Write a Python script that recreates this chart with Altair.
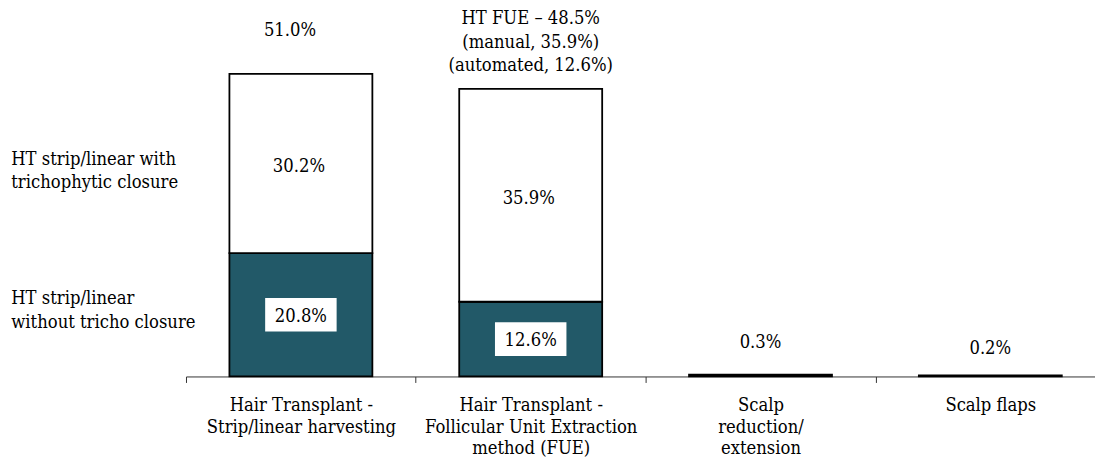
import json
import altair as alt
import pandas as pd

categories = [
    "Hair Transplant -\nStrip/linear harvesting",
    "Hair Transplant -\nFollicular Unit Extraction\nmethod (FUE)",
    "Scalp\nreduction/\nextension",
    "Scalp flaps",
]
bottom_values = [20.8, 12.6, 0.3, 0.2]
top_values = [30.2, 35.9, 0.0, 0.0]
total_labels = [
    "51.0%",
    "HT FUE \u2013 48.5%\n (manual,  35.9%)\n(automated, 12.6%)",
    "0.3%",
    "0.2%",
]
annotations = [
    "HT strip/linear with\ntrichophytic closure",
    "HT strip/linear\nwithout tricho closure",
]

DARK = "#225968"
FONT = "DejaVu Serif Condensed, DejaVu Serif"
FS = 18.4

rows = []
for i, c in enumerate(categories):
    b = bottom_values[i]
    t = top_values[i]
    rows.append(dict(cat=c, xc=i + 0.5, seg="bottom", y0=0.0, y1=b, mid=b / 2,
                     label=f"{b:.1f}%", color=DARK))
    if t > 0:
        rows.append(dict(cat=c, xc=i + 0.5, seg="top", y0=b, y1=b + t, mid=b + t / 2,
                         label=f"{t:.1f}%", color="white"))
seg_df = pd.DataFrame(rows)

tot_df = pd.DataFrame({
    "cat": categories,
    "idx": list(range(4)),
    "xc": [i + 0.5 for i in range(4)],
    "total": [b + t for b, t in zip(bottom_values, top_values)],
    "label": total_labels,
})

ann_df = pd.DataFrame({
    "idx": [0, 1],
    "text": annotations,
    "ypos": [bottom_values[0] + top_values[0] / 2, bottom_values[0] / 2],
})

W = 915.7
STEP = 231.5
xscale = alt.Scale(domain=[0, W / STEP], nice=False, zero=False, padding=0)
yscale = alt.Scale(domain=[0, 60])

cats_js = json.dumps(categories)
tick_vals = [0, 0.5, 1, 1.5, 2, 2.5, 3, 3.5]
x_axis = alt.Axis(
    values=tick_vals,
    labelExpr=f"datum.value % 1 === 0 ? '' : split({cats_js}[floor(datum.value)], '\\n')",
    labelAngle=0, labelFont=FONT, labelFontSize=FS, labelColor="black",
    labelLineHeight=22, labelPadding=13, labelLimit=0,
    labelOverlap=False, labelBound=False, labelFlush=False,
    tickSize=6, tickColor="#333333", tickWidth=1,
    tickOpacity=alt.condition("datum.value % 1 === 0", alt.value(1), alt.value(0)),
    domainColor="#333333", domainWidth=1, grid=False, title=None,
)

base = alt.Chart(seg_df)

bars = base.mark_bar(width=144, stroke="black", strokeWidth=1.8).encode(
    x=alt.X("xc:Q", scale=xscale, axis=x_axis),
    y=alt.Y("y0:Q", scale=yscale, axis=None),
    y2="y1:Q",
    fill=alt.Fill("color:N", scale=None),
)

top_text = base.transform_filter("datum.seg == 'top'").mark_text(
    font=FONT, fontSize=FS, color="black", baseline="middle", dy=2.5, dx=-2
).encode(x=alt.X("xc:Q", scale=xscale), y=alt.Y("mid:Q", scale=yscale), text="label:N")

box_path = "M-1,-0.47L1,-0.47L1,0.47L-1,0.47Z"
boxes = base.transform_filter("datum.seg == 'bottom' && datum.y1 > 5").mark_point(
    shape=box_path, size=72 * 72, filled=True, color="white", opacity=1, strokeWidth=0
).encode(x=alt.X("xc:Q", scale=xscale), y=alt.Y("mid:Q", scale=yscale))

bot_text = base.transform_filter("datum.seg == 'bottom' && datum.y1 > 5").mark_text(
    font=FONT, fontSize=FS, color="black", baseline="middle", dy=1
).encode(x=alt.X("xc:Q", scale=xscale), y=alt.Y("mid:Q", scale=yscale), text="label:N")

tot_base = alt.Chart(tot_df)
offsets = [(-38, -11), (-65, 0), (-27, 0), (-21, 0)]
tot_layers = []
for i, (dy, dx) in enumerate(offsets):
    tot_layers.append(
        tot_base.transform_filter(f"datum.idx == {i}").mark_text(
            font=FONT, fontSize=FS, color="black", baseline="alphabetic",
            dy=dy, dx=dx, lineBreak="\n", lineHeight=23.5
        ).encode(x=alt.X("xc:Q", scale=xscale),
                 y=alt.Y("total:Q", scale=yscale), text="label:N")
    )

ann_base = alt.Chart(ann_df)
ann_layers = []
for i, dy in enumerate([-5, -16.5]):
    ann_layers.append(
        ann_base.transform_filter(f"datum.idx == {i}").mark_text(
            font=FONT, fontSize=FS, color="black", align="left", baseline="middle",
            lineBreak="\n", lineHeight=23.5, dy=dy
        ).encode(x=alt.value(-176), y=alt.Y("ypos:Q", scale=yscale), text="text:N")
    )

chart = alt.layer(bars, top_text, boxes, bot_text, *tot_layers, *ann_layers).properties(
    width=W, height=358.5,
    autosize=alt.AutoSizeParams(type="none"),
    padding={"left": 179.3, "top": 11, "right": 0, "bottom": 87.5},
    background="white",
).configure_view(stroke=None)

chart.save("out.html", embed_options={"renderer": "svg", "actions": False})
